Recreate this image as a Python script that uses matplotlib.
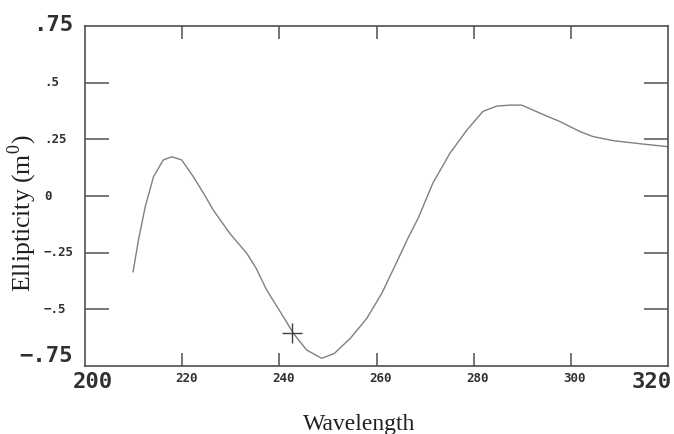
import numpy as np
import matplotlib
matplotlib.use('Agg')
from matplotlib import pyplot as plt

# CD spectrum
wavelength = [209.9, 211.0, 212.4, 214.1, 216.1, 217.9, 219.9, 222.3, 224.4, 226.4,
              229.8, 233.3, 235.2, 237.4, 240.8, 242.9, 245.6, 248.7, 251.3,
              254.6, 258.0, 261.1, 264.2, 266.5, 268.6, 271.6, 275.1, 278.6, 281.9,
              284.8, 287.5, 289.9, 293.7, 297.8, 301.9, 304.6, 308.8, 314.9, 319.8]
ellipticity = [-0.334, -0.194, -0.047, 0.085, 0.159, 0.173, 0.159, 0.085, 0.012, -0.062,
               -0.165, -0.253, -0.318, -0.415, -0.532, -0.606, -0.679, -0.716, -0.695,
               -0.628, -0.540, -0.429, -0.290, -0.185, -0.097, 0.057, 0.188, 0.291, 0.373,
               0.397, 0.401, 0.401, 0.365, 0.328, 0.284, 0.262, 0.244, 0.229, 0.218]

cursor_x = [242.7]
cursor_y = [-0.604]

xticks = [220, 240, 260, 280, 300]
xtick_labels = ['220', '240', '260', '280', '300']
x_ends = [200, 320]
x_end_labels = ['200', '320']
yticks = [0.5, 0.25, 0, -0.25, -0.5]
ytick_labels = ['.5', '.25', '0', '\u2212.25', '\u2212.5']
y_ends = [0.75, -0.75]
y_end_labels = ['.75', '\u2212.75']

plt.rcParams['mathtext.fontset'] = 'custom'
plt.rcParams['mathtext.rm'] = 'Liberation Serif'

fig = plt.figure(figsize=(6.74, 4.34), dpi=100)
ax = fig.add_axes([85/674, 68/434, 583/674, 340/434])

ax.plot(wavelength, ellipticity, color='#808080', lw=1.0)
ax.plot(cursor_x, cursor_y, marker='+', ms=15, mew=1.0, color='#404040', ls='none')

ax.set_xlim(x_ends[0], x_ends[1])
ax.set_ylim(y_ends[1], y_ends[0])

for s in ax.spines.values():
    s.set_color('#505050')
    s.set_linewidth(1.2)

ax.set_xticks(xticks)
ax.set_yticks(yticks)
ax.set_xticklabels([])
ax.set_yticklabels([])
ax.tick_params(axis='x', direction='in', length=9.4, width=1.1, color='#505050', top=True)
ax.tick_params(axis='y', direction='in', length=17.3, width=1.1, color='#505050', right=True)

mono = 'DejaVu Sans Mono'
tc = '#303030'

for x, lab in zip(xticks, xtick_labels):
    ax.annotate(lab, xy=(x, 0), xycoords=('data', 'axes fraction'),
                xytext=(4, -12), textcoords='offset pixels', ha='center', va='center',
                family=mono, weight='bold', fontsize=9, color=tc)

ax.annotate(x_end_labels[0], xy=(x_ends[0], 0), xycoords=('data', 'axes fraction'),
            xytext=(7.5, -16.5), textcoords='offset pixels', ha='center', va='center',
            family=mono, weight='bold', fontsize=16, color=tc)
ax.annotate(x_end_labels[1], xy=(x_ends[1], 0), xycoords=('data', 'axes fraction'),
            xytext=(4, -15.5), textcoords='offset pixels', ha='right', va='center',
            family=mono, weight='bold', fontsize=16, color=tc)

for y, lab in zip(yticks, ytick_labels):
    ax.annotate(lab, xy=(0, y), xycoords=('axes fraction', 'data'),
                xytext=(-41, 0), textcoords='offset pixels', ha='left', va='center',
                family=mono, weight='bold', fontsize=9, color=tc)

ax.annotate(y_end_labels[0], xy=(0, y_ends[0]), xycoords=('axes fraction', 'data'),
            xytext=(-12, 1), textcoords='offset pixels', ha='right', va='center',
            family=mono, weight='bold', fontsize=16, color=tc)
ax.annotate(y_end_labels[1], xy=(0, y_ends[1]), xycoords=('axes fraction', 'data'),
            xytext=(-12, 10), textcoords='offset pixels', ha='right', va='center',
            family=mono, weight='bold', fontsize=16, color=tc)

fig.text(22/674, 1 - 213/434, r'Ellipticity (m$^\mathrm{0}$)', rotation=90,
         ha='center', va='center', family='Liberation Serif', fontsize=18.5, color='#202020')
fig.text(359/674, 1 - 430/434, 'Wavelength', ha='center', va='baseline',
         family='Liberation Serif', fontsize=17, color='#202020')

fig.savefig('out.png', dpi=100)
